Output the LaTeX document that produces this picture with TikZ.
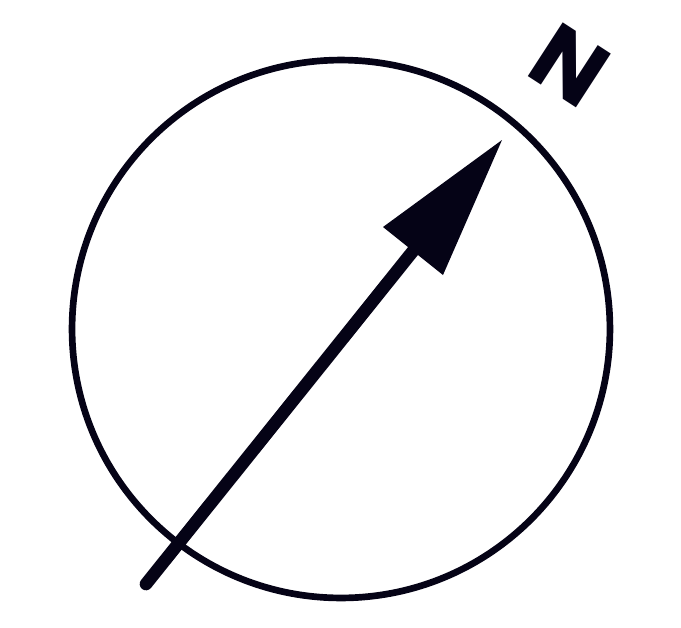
\documentclass[tikz,border=0pt]{standalone}
\usepackage{fontspec}
\newfontfamily\northfont{Poppins}
\definecolor{ink}{RGB}{5, 3, 22}
\usetikzlibrary{calc}

\begin{document}
\begin{tikzpicture}[x=0.02cm, y=-0.02cm]
        \useasboundingbox (0,0) rectangle (681,627);

        % Ring around the arrow
        \node[circle, draw=ink, line width=3.8pt, minimum size=10.76cm, inner sep=0pt]
            (ring) at (341,329) {};

        % North arrow
        \coordinate (tail) at (146,584);
        \coordinate (tip) at (502,140);
        \coordinate (base) at (413,251);
        \coordinate (wingL) at (383,227);
        \coordinate (wingR) at (443,275);
        \draw[ink, line width=7.2pt, line cap=round] (tail) -- (base);
        \fill[ink] (tip) -- (wingL) -- (wingR) -- cycle;

        % Letter
        \node[text=ink, font=\northfont\bfseries\fontsize{52}{52}\selectfont, rotate=-33]
            (north) at (570,65) {N};
    \end{tikzpicture}
\end{document}
